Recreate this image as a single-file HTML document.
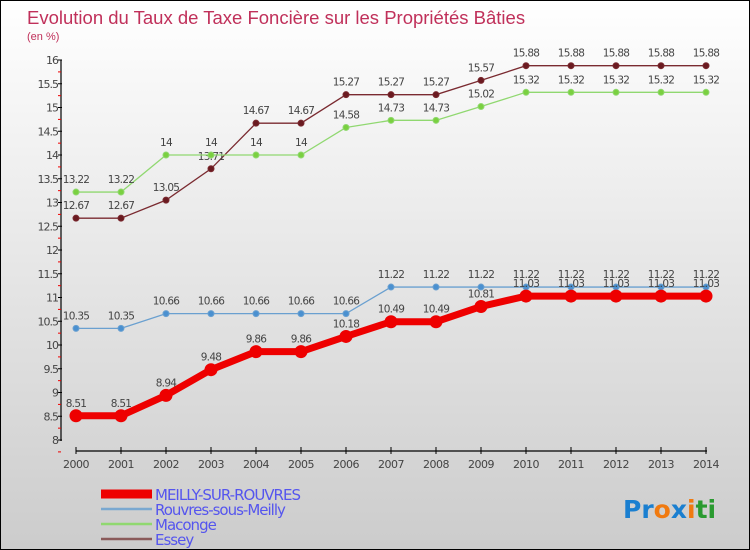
<!DOCTYPE html>
<html><head><meta charset="utf-8"><style>
body{margin:0}
#c{width:748px;height:548px;border:1px solid #000;background:linear-gradient(#fff,#ccc);position:relative;overflow:hidden;font-family:"DejaVu Sans","Liberation Sans",sans-serif}
</style></head><body>
<div id="c">
<svg id="s" width="748" height="548" xmlns="http://www.w3.org/2000/svg" style="position:absolute;left:0;top:0">
<text x="26" y="23" font-size="18.5" fill="#c0305a" font-family="Liberation Sans, sans-serif">Evolution du Taux de Taxe Foncière sur les Propriétés Bâties</text>
<text x="26" y="39" font-size="11" fill="#c0305a" font-family="Liberation Sans, sans-serif">(en %)</text>
<text x="622" y="517" font-size="25" font-weight="bold" fill="#1a7fd0">Pr<tspan fill="#f07a10">o</tspan><tspan fill="#1a7fd0">x</tspan><tspan fill="#f07a10">i</tspan><tspan fill="#2a9a30">ti</tspan></text>
</svg>
</div>
<script>
const years=[2000,2001,2002,2003,2004,2005,2006,2007,2008,2009,2010,2011,2012,2013,2014];
const meilly=[8.51,8.51,8.94,9.48,9.86,9.86,10.18,10.49,10.49,10.81,11.03,11.03,11.03,11.03,11.03];
const rouvres=[10.35,10.35,10.66,10.66,10.66,10.66,10.66,11.22,11.22,11.22,11.22,11.22,11.22,11.22,11.22];
const maconge=[13.22,13.22,14,14,14,14,14.58,14.73,14.73,15.02,15.32,15.32,15.32,15.32,15.32];
const essey=[12.67,12.67,13.05,13.71,14.67,14.67,15.27,15.27,15.27,15.57,15.88,15.88,15.88,15.88,15.88];
const yTicks=[8,8.5,9,9.5,10,10.5,11,11.5,12,12.5,13,13.5,14,14.5,15,15.5,16];
const svg=document.getElementById('s');const NS='http://www.w3.org/2000/svg';
const X=i=>75+i*45, Y=v=>439-(v-8)*47.5;
function mk(t,a,p){const e=document.createElementNS(NS,t);for(const k in a)e.setAttribute(k,a[k]);(p||svg).appendChild(e);return e;}
const ax=mk('g',{});


mk('line',{x1:60,y1:59,x2:60,y2:440,stroke:'#000','stroke-width':1.2},ax);
mk('line',{x1:75,y1:450,x2:706,y2:450,stroke:'#000','stroke-width':1.2},ax);
yTicks.forEach(v=>{const y=Y(v);mk('line',{x1:57,y1:y,x2:61,y2:y,stroke:'#000'},ax);
 mk('line',{x1:57,y1:y+11.9,x2:60,y2:y+11.9,stroke:'#e00'},ax);
 const t=mk('text',{x:57,y:y+4,'font-size':11,'text-anchor':'end',fill:'#444','letter-spacing':'-1'},ax);t.textContent=v;
 
 });
years.forEach((yr,i)=>{mk('line',{x1:X(i),y1:446,x2:X(i),y2:453,stroke:'#000'},ax);
 const t=mk('text',{x:X(i),y:467,'font-size':11,'text-anchor':'middle',fill:'#444','letter-spacing':'-0.5'},ax);t.textContent=yr;
 
 });
function series(vals,color,w,r,fill,name){const g=mk('g',{});
 
 
 mk('polyline',{points:vals.map((v,i)=>X(i)+','+Y(v)).join(' '),fill:'none',stroke:color,'stroke-width':w},g);
 vals.forEach((v,i)=>{mk('circle',{cx:X(i),cy:Y(v),r:r,fill:fill,stroke:color,'stroke-width':1},g);
  const t=mk('text',{x:X(i),y:Y(v)-9,'font-size':10.5,'text-anchor':'middle',fill:'#444','letter-spacing':'-0.7'},g);t.textContent=v;
  
  });}
series(essey,'#7a2a30',1.3,3,'#6a1a20','series-essey');
series(maconge,'#90d870',1.3,3,'#7ad040','series-maconge');
series(rouvres,'#6aa0d0',1.3,3,'#4a90d0','series-rouvres');
series(meilly,'#ee0000',7,6,'#ee0000','series-meilly');
const lg=[['MEILLY-SUR-ROUVRES','#ee0000',9],['Rouvres-sous-Meilly','#7aa8d0',2.5],['Maconge','#90d870',2.5],['Essey','#8a5a5a',2.5]];
lg.forEach((l,i)=>{const y=493+i*15;const g=mk('g',{});
 
 
 mk('line',{x1:100,y1:y,x2:151,y2:y,stroke:l[1],'stroke-width':l[2]},g);
 const t=mk('text',{x:154,y:y+6,'font-size':15,fill:'#5555ee','letter-spacing':'-1'},g);t.textContent=l[0];});
</script>
</body></html>
